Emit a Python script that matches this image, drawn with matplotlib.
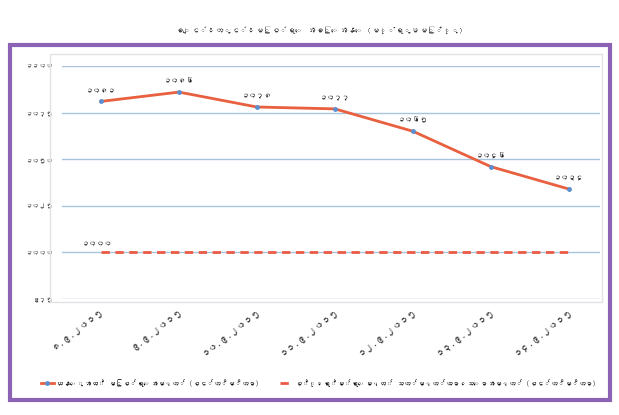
import matplotlib
matplotlib.use("Agg")
import matplotlib.pyplot as plt
from matplotlib import font_manager
from matplotlib.ft2font import FT2Font
from matplotlib.patches import Rectangle

# data (cm)
dates = ["၈.၉.၂၀၁၅", "၉.၉.၂၀၁၅", "၁၀.၉.၂၀၁၅", "၁၁.၉.၂၀၁၅",
         "၁၂.၉.၂၀၁၅", "၁၃.၉.၂၀၁၅", "၁၄.၉.၂၀၁၅"]
level = [1081, 1086, 1078, 1077, 1065, 1046, 1034]
danger = [1000, 1000, 1000, 1000, 1000, 1000, 1000]
yticks = [975, 1000, 1025, 1050, 1075, 1100]

title = "ချင်းတွင်းမြစ်ရေ အခြေအနေ (မုံရွာမြို့)"
lab1 = "ယနေ့အထိ မြစ်ရေအမှတ် (စင်တီမီတာ)"
lab2 = "စိုးရိမ်ရေမှတ် သတ်မှတ်ထားသောအမှတ် (စင်တီမီတာ)"

MY = str.maketrans("0123456789", "၀၁၂၃၄၅၆၇၈၉")
def mm(n):
    return str(n).translate(MY)

# look for any installed font that has Myanmar glyphs
fams = []
for path in font_manager.findSystemFonts():
    try:
        if 0x1000 in FT2Font(path).get_charmap():
            fams.append(font_manager.FontProperties(fname=path).get_name())
            break
    except Exception:
        pass
plt.rcParams["font.family"] = fams + ["DejaVu Sans"]

fig = plt.figure(figsize=(6.19, 4.15), dpi=100)
fig.patch.set_facecolor("white")

# purple frame around the chart
fig.patches.append(Rectangle((10 / 619, 1 - 400 / 415), 600 / 619, 355 / 415,
                             transform=fig.transFigure, fill=False,
                             edgecolor="#8c62b4", linewidth=3))
# light grey plot-area box
fig.patches.append(Rectangle((50 / 619, 1 - 302 / 415), 552 / 619, 248 / 415,
                             transform=fig.transFigure, fill=False,
                             edgecolor="#e2e2e2", linewidth=1))
fig.text(0.515, 1 - 30 / 415, title, ha="center", va="center", fontsize=5.8, color="#333333")

ax = fig.add_axes([62 / 619, 1 - 299 / 415, 538 / 619, 233 / 415])
x = list(range(len(dates)))
ax.plot(x, level, color="#e8603f", lw=2, marker="o", ms=2.5,
        mfc="#5b8fd0", mec="#5b8fd0", label=lab1)
ax.plot(x, danger, color="#ec5a45", lw=2, ls=(0, (3, 2)), label=lab2)

for i, v in zip(x, level):
    ax.annotate(mm(v), (i, v), xytext=(0, 6), textcoords="offset points",
                ha="center", va="bottom", fontsize=5.5, color="#222222")
ax.annotate(mm(danger[0]), (0, danger[0]), xytext=(-3, 4), textcoords="offset points",
            ha="center", va="bottom", fontsize=5.5, color="#222222")

ax.set_xlim(-0.5, 6.4)
ax.set_ylim(975, 1100)
ax.set_yticks(yticks)
ax.set_yticklabels([mm(t) for t in yticks], fontsize=5, color="#444444")
ax.set_xticks(x)
ax.set_xticklabels(dates, rotation=38, ha="right", rotation_mode="anchor",
                   fontsize=6.5, color="#333333")
ax.grid(axis="y", color="#a8c4dc", lw=1)
ax.tick_params(length=0, pad=6)
for s in ax.spines.values():
    s.set_visible(False)
ax.set_axisbelow(True)

fig.legend(loc="center", bbox_to_anchor=(0.515, 1 - 383 / 415), ncol=2,
           frameon=False, fontsize=5, handlelength=1.8, handletextpad=0.4,
           columnspacing=3)

fig.savefig("out.png", dpi=100)
